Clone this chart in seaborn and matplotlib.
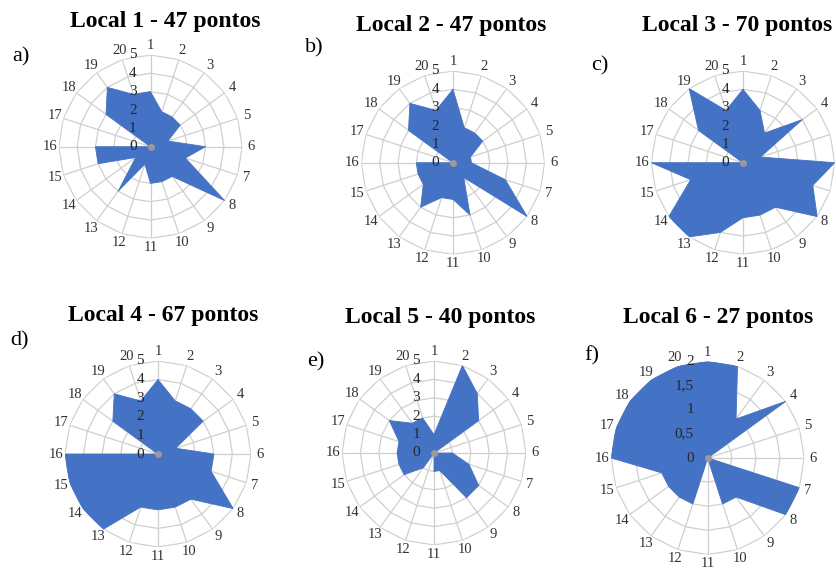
import numpy as np
import pandas as pd
import matplotlib
matplotlib.use("Agg")
import matplotlib.pyplot as plt
from matplotlib.transforms import offset_copy
import seaborn as sns

# ---------------- data ----------------
categories = [str(i) for i in range(1, 21)]
local1 = [3, 2, 2, 2, 1, 3, 2, 5, 2, 2, 2, 1, 3, 1, 3, 3, 0, 3, 4, 3]
local2 = [4, 2, 2, 2, 1, 1, 3, 5, 1, 3, 2, 2, 3, 2, 2, 2, 0, 3, 4, 3]
local3 = [4, 3, 2, 4, 1, 5, 4, 5, 3, 3, 3, 4, 5, 5, 3, 5, 0, 3, 5, 3]
local4 = [4, 3, 3, 3, 1, 3, 3, 5, 3, 3, 3, 3, 5, 5, 5, 5, 0, 3, 4, 3]
local5 = [1, 5, 4, 3, 0, 1, 2, 3, 3, 1, 1, 0, 1, 2, 2, 2, 2, 3, 2, 2]
local6 = [2, 2, 1, 2, 0, 0, 2, 2, 1, 1, 0, 1, 1, 1, 1, 2, 2, 2, 2, 2]
series = [local1, local2, local3, local4, local5, local6]
titles = ["Local 1 - 47 pontos", "Local 2 - 47 pontos", "Local 3 - 70 pontos",
          "Local 4 - 67 pontos", "Local 5 - 40 pontos", "Local 6 - 27 pontos"]
panel_labels = ["a)", "b)", "c)", "d)", "e)", "f)"]
ticks_main = [0, 1, 2, 3, 4, 5]
ticklabels_main = ["0", "1", "2", "3", "4", "5"]
ticks_f = [0, 0.5, 1, 1.5, 2]
ticklabels_f = ["0", "0,5", "1", "1,5", "2"]

# ---------------- layout (pixels) ----------------
W, H = 836, 571
centers = [(150.5, 146.7), (453, 162.7), (743, 162.7),
           (158, 454), (434, 453), (707.7, 458)]
radii = [91.7, 91.7, 91.7, 93, 92, 96.5]
title_pos = [(165, 22), (451, 25), (737, 25), (163, 315), (440, 317), (718, 317)]
label_pos = [(12, 57), (305, 48), (591, 66), (10, 341), (307, 362), (584, 356)]

sns.set_style("white")
plt.rcParams["font.family"] = ["Liberation Serif", "DejaVu Serif"]

blue = "#4472C4"
grid_c = "#cfcfcf"

fig = plt.figure(figsize=(W / 100, H / 100), dpi=100)

angles = np.arange(len(categories)) * 2 * np.pi / len(categories)
closed_angles = np.append(angles, 2 * np.pi)

for i, vals in enumerate(series):
    cx, cy = centers[i]
    R = radii[i]
    rect = [(cx - R) / W, (H - (cy + R)) / H, 2 * R / W, 2 * R / H]
    ax = fig.add_axes(rect, projection="polar")
    ax.set_theta_zero_location("N")
    ax.set_theta_direction(-1)

    if i == 5:
        ticks, tlabels = ticks_f, ticklabels_f
    else:
        ticks, tlabels = ticks_main, ticklabels_main
    rmax = ticks[-1]

    # polygonal rings
    for k in ticks[1:]:
        ax.plot(closed_angles, [k] * len(closed_angles), color=grid_c, lw=0.9, zorder=1)
    ax.yaxis.grid(False)
    ax.xaxis.grid(True, color=grid_c, lw=0.9)
    ax.set_axisbelow(True)
    ax.spines["polar"].set_visible(False)

    df = pd.DataFrame({"theta": closed_angles, "r": list(vals) + [vals[0]]})
    ax.fill(df["theta"], df["r"], color=blue, lw=0, zorder=2)
    sns.lineplot(data=df, x="theta", y="r", ax=ax, color=blue, lw=0.6,
                 sort=False, zorder=3, estimator=None)
    ax.plot([0], [0], marker="o", ms=4, color="#9a9a9a", zorder=4)

    ax.set_ylim(0, rmax)
    ax.set_yticks([])
    ax.set_xticks(angles)
    ax.set_xticklabels(categories, fontsize=10.5, color="#333333")
    ax.tick_params(axis="x", pad=-4)
    ax.set_xlabel("")
    ax.set_ylabel("")

    trans = offset_copy(ax.transData, fig=fig, x=-10, y=0, units="points")
    for t, lab in zip(ticks, tlabels):
        ax.text(0, t, lab, transform=trans, ha="right", va="center",
                fontsize=11, color="#262626", zorder=5)

    tx, ty = title_pos[i]
    fig.text(tx / W, 1 - ty / H, titles[i], ha="center", va="center",
             fontsize=17, fontweight="bold", color="black")
    lx, ly = label_pos[i]
    fig.text(lx / W, 1 - ly / H, panel_labels[i], ha="left", va="center",
             fontsize=16, color="black")

fig.savefig("out.png", dpi=100, facecolor="white")
